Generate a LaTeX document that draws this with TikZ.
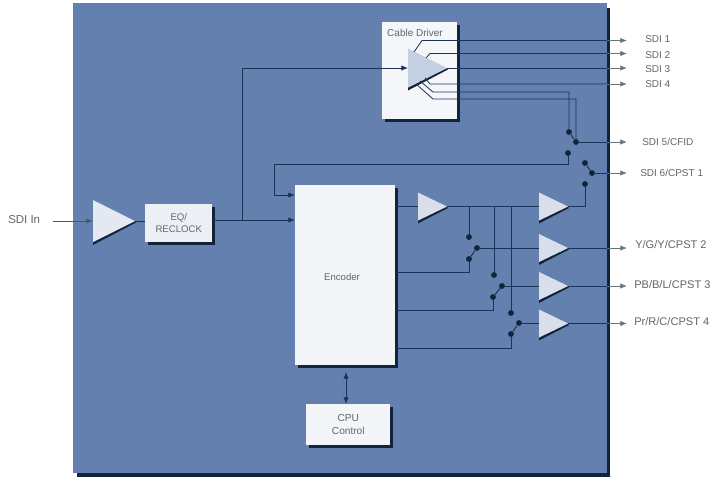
\documentclass[tikz,border=0pt]{standalone}
\usepackage{fontspec}
\setmainfont{Liberation Sans}
\usetikzlibrary{shadows,arrows.meta}
\definecolor{panel}{HTML}{6480AF}
\definecolor{wire}{HTML}{1C3358}
\definecolor{darkedge}{HTML}{14233C}
\definecolor{ext}{HTML}{66767E}
\definecolor{txt}{HTML}{5E666F}
\tikzset{
  x=0.75pt,y=-0.75pt,
  wireline/.style={draw=wire,line width=0.6pt},
  arrowline/.style={wireline,-{Latex[length=5pt,width=4pt]}},
  extline/.style={draw=ext,line width=0.6pt,-{Latex[length=5pt,width=4pt]}},
  blade/.style={draw=darkedge,line width=0.6pt},
  dot/.style={circle,fill=darkedge,draw=none,inner sep=0pt,minimum size=4.4pt},
  lbl/.style={font=\fontsize{7.5}{9}\selectfont,text=txt,anchor=west,inner sep=0pt},
  lblwide/.style={lbl,font=\fontsize{8.3}{9}\selectfont},
  boxtext/.style={font=\fontsize{7.2}{8.6}\selectfont,text=txt,align=center},
  whitebox/.style={rectangle,fill=#1,draw=none,inner sep=0pt,anchor=north west,
    copy shadow={shadow xshift=1.8pt,shadow yshift=-1.8pt,fill=darkedge,draw=none}},
  ampbox/.style={rectangle,draw=none,inner sep=0pt,outer sep=0pt,anchor=west},
}
% amplifier: a named box whose west and east anchors are the input and the tip
\newcommand{\amplifier}[6]{%
  \node[ampbox,minimum width=#4*0.75pt,minimum height=#5*0.75pt] (#1) at (#2,#3) {};
  \fill[darkedge] (#1.south west) -- ([yshift=-2.2pt]#1.south west) -- ([yshift=-1.2pt,xshift=0.6pt]#1.east) -- (#1.east) -- cycle;
  \fill[#6] (#1.north west) -- (#1.south west) -- (#1.east) -- cycle;
}
\begin{document}
\begin{tikzpicture}
\useasboundingbox[fill=white] (0,0) rectangle (713,479);
% panel
\fill[darkedge] (77,8) rectangle (610,477);
\fill[panel] (73,3) rectangle (607,473);
% boxes
\node[whitebox=white!93!panel,minimum width=75*0.75pt,minimum height=97*0.75pt] (cable) at (382,22) {};
\node[boxtext,anchor=north,font=\fontsize{7.5}{9}\selectfont] (cabletxt) at (415,24.5) {Cable Driver};
\node[whitebox=white!92!panel,minimum width=100*0.75pt,minimum height=180*0.75pt] (enc) at (295,185) {};
\node[boxtext] (enctxt) at (342,277) {Encoder};
\node[whitebox=white!88!panel,minimum width=67*0.75pt,minimum height=38*0.75pt,boxtext] (eq) at (145,204) {EQ/\\RECLOCK};
\node[whitebox=white!92!panel,minimum width=84*0.75pt,minimum height=41*0.75pt,boxtext,font=\fontsize{7.6}{9.4}\selectfont] (cpu) at (306,404) {CPU\\Control};
% amplifiers
\amplifier{in}{93}{221}{42}{42}{white!82!panel}
\amplifier{drv}{408}{68}{39}{39}{white!62!panel}
\amplifier{a1}{418}{206.5}{29}{28}{white!75!panel}
\amplifier{a2}{539}{206.5}{29}{28}{white!75!panel}
\amplifier{a3}{539}{248}{29}{28}{white!75!panel}
\amplifier{a4}{539}{286}{29}{28}{white!75!panel}
\amplifier{a5}{539}{323.5}{29}{28}{white!75!panel}
% switch contacts
\node[dot] (s5a) at (569,132) {};
\node[dot] (s5o) at (576,142) {};
\node[dot] (s5b) at (568,153) {};
\node[dot] (s6a) at (585,163) {};
\node[dot] (s6o) at (592,173) {};
\node[dot] (s6b) at (585,184) {};
\node[dot] (y1) at (469,237) {};
\node[dot] (yo) at (477,248) {};
\node[dot] (y2) at (469,259) {};
\node[dot] (p1) at (494,275) {};
\node[dot] (po) at (502,286) {};
\node[dot] (p2) at (493,297) {};
\node[dot] (r1) at (511,313) {};
\node[dot] (ro) at (519,323) {};
\node[dot] (r2) at (511,334) {};
% labels
\node[lbl,font=\fontsize{8.6}{10}\selectfont] (sdiin) at (8,220) {SDI In};
\node[lbl] (l1) at (645,39.5) {SDI 1};
\node[lbl] (l2) at (645,55) {SDI 2};
\node[lbl] (l3) at (645,69) {SDI 3};
\node[lbl] (l4) at (645,84.5) {SDI 4};
\node[lbl] (l5) at (642,142) {SDI 5/CFID};
\node[lbl] (l6) at (640,172.5) {SDI 6/CPST 1};
\node[lblwide] (l7) at (635,245) {Y/G/Y/CPST 2};
\node[lblwide] (l8) at (634,285) {PB/B/L/CPST 3};
\node[lblwide] (l9) at (634,322) {Pr/R/C/CPST 4};
% free ends
\coordinate (inS) at (53,221);
\foreach \n/\yy in {1/40.5,2/53.5,3/68,4/84,5/142,6/173,7/248,8/286,9/323.5}{
  \coordinate (e\n) at (607,\yy);
  \coordinate (t\n) at (627,\yy);
  \draw[extline] (e\n) -- (t\n);
}
% input
\draw[arrowline,draw=ext!60!wire] (inS) -- (in.west);
\draw[wireline] (in.east) -- (eq.west |- in.east);
\draw[arrowline] (eq.east |- 0,220) -- (enc.west |- 0,220);
\coordinate (tap) at (242,220);
\coordinate (tapt) at (242,68);
\draw[arrowline] (tap) -- (tapt) -- (drv.west);
% cable driver outputs
\draw[wireline] (414,52) -- (422,40.5) -- (e1);
\draw[wireline] (426,58) -- (430,53.5) -- (e2);
\draw[wireline] (drv.east) -- (e3);
\coordinate (d4) at (430,84);
\coordinate (d5) at (433,92);
\coordinate (d6) at (433,99);
\draw[wireline] (425,78) -- (d4) -- (e4);
\draw[wireline] (420,81) -- (d5) -- (569,92) -- (s5a);
\draw[wireline] (416,84) -- (d6) -- (576,99) -- (s5o);
\draw[blade] (s5a) -- (s5o);
\draw[wireline] (s5o) -- (e5);
% feedback to encoder
\draw[arrowline] (s5b) -- (568,164.5) -- (274,164.5) -- (274,195) -- (enc.west |- 0,195);
\draw[blade] (s6a) -- (s6o);
\draw[wireline] (s6o) -- (e6);
\draw[wireline] (a2.east) -- (585,206.5) -- (s6b);
% encoder outputs
\draw[wireline] (enc.east |- a1.west) -- (a1.west);
\draw[wireline] (a1.east) -- (a2.west);
\draw[wireline] (469,206.5) -- (y1);
\draw[wireline] (494,206.5) -- (p1);
\draw[wireline] (511,206.5) -- (r1);
\draw[wireline] (enc.east |- 0,272) -- (469,272) -- (y2);
\draw[wireline] (enc.east |- 0,310) -- (493,310) -- (p2);
\draw[wireline] (enc.east |- 0,348) -- (511,348) -- (r2);
\draw[blade] (y2) -- (yo);
\draw[blade] (p2) -- (po);
\draw[blade] (r2) -- (ro);
\draw[wireline] (yo) -- (yo -| a3.west);
\draw[wireline] (po) -- (po -| a4.west);
\draw[wireline] (ro) -- (ro -| a5.west);
\draw[wireline] (a3.east) -- (e7);
\draw[wireline] (a4.east) -- (e8);
\draw[wireline] (a5.east) -- (e9);
% cpu
\coordinate (encb) at (346,372);
\draw[wireline,{Latex[length=5pt,width=4pt]}-{Latex[length=5pt,width=4pt]}] (encb) -- (cpu.north -| encb);
\end{tikzpicture}
\end{document}
